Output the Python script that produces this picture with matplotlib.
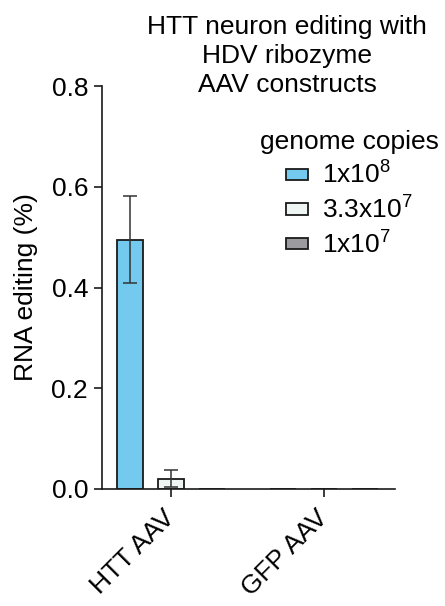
import numpy as np
import matplotlib
matplotlib.use("Agg")
import matplotlib.pyplot as plt

plt.rcParams['font.family'] = ['Liberation Sans', 'DejaVu Sans']
plt.rcParams['mathtext.fontset'] = 'custom'
plt.rcParams['mathtext.rm'] = 'Liberation Sans'
plt.rcParams['mathtext.default'] = 'regular'

groups = ["HTT AAV", "GFP AAV"]
doses = ["1x10$^{8}$", "3.3x10$^{7}$", "1x10$^{7}$"]
means = [[0.495, 0.0], [0.02, 0.0], [0.0, 0.0]]
errs = [[0.086, 0.0], [0.017, 0.0], [0.0, 0.0]]
colors = ["#74C9EF", "#EEF5F2", "#9B9B9F"]

FS = 19

fig = plt.figure(figsize=(4.45, 6.06), dpi=100)
ax = fig.add_axes([0.2292, 0.1931, 0.8876 - 0.2292, 0.858 - 0.1931])

x = np.arange(len(groups))
offset = 0.268
width = 0.176
for i in range(3):
    pos = x + (i - 1) * offset
    ax.bar(pos, means[i], width, color=colors[i], edgecolor="#1a1a1a",
           linewidth=1.3, label=doses[i], zorder=2)
    # only draw error bars where there is something
    m = np.array(errs[i]) > 0
    if m.any():
        ax.errorbar(pos[m], np.array(means[i])[m], yerr=np.array(errs[i])[m],
                    fmt="none", ecolor="#333333", elinewidth=1.1, capsize=5,
                    capthick=1.1, zorder=3)

ax.set_xlim(-0.451, 1.464)
ax.set_ylim(0, 0.8)
ax.set_yticks([0, 0.2, 0.4, 0.6, 0.8])
ax.set_yticklabels(["0.0", "0.2", "0.4", "0.6", "0.8"])
ax.set_xticks(x)
ax.set_xticklabels(groups, rotation=45, ha="right", va="center",
                   rotation_mode="anchor")
ax.tick_params(labelsize=FS, width=1.2, length=6, color="#1a1a1a")
ax.tick_params(axis="x", pad=12)
ax.tick_params(axis="y", pad=4)
for s in ["top", "right"]:
    ax.spines[s].set_visible(False)
for s in ["left", "bottom"]:
    ax.spines[s].set_linewidth(1.2)
    ax.spines[s].set_color("#1a1a1a")

ax.set_ylabel("RNA editing (%)", fontsize=FS, labelpad=10)

fig.text(0.645, 0.975, "HTT neuron editing with\nHDV ribozyme\nAAV constructs",
         ha="center", va="top", fontsize=FS, linespacing=1.25)

leg = ax.legend(title="genome copies", loc="upper center",
                bbox_to_anchor=(0.845, 0.89), frameon=False, fontsize=FS,
                title_fontsize=FS, handlelength=0.83, handleheight=0.3,
                handletextpad=0.55, labelspacing=0.28, borderaxespad=0,
                borderpad=0)

fig.savefig("out.png", dpi=100)
